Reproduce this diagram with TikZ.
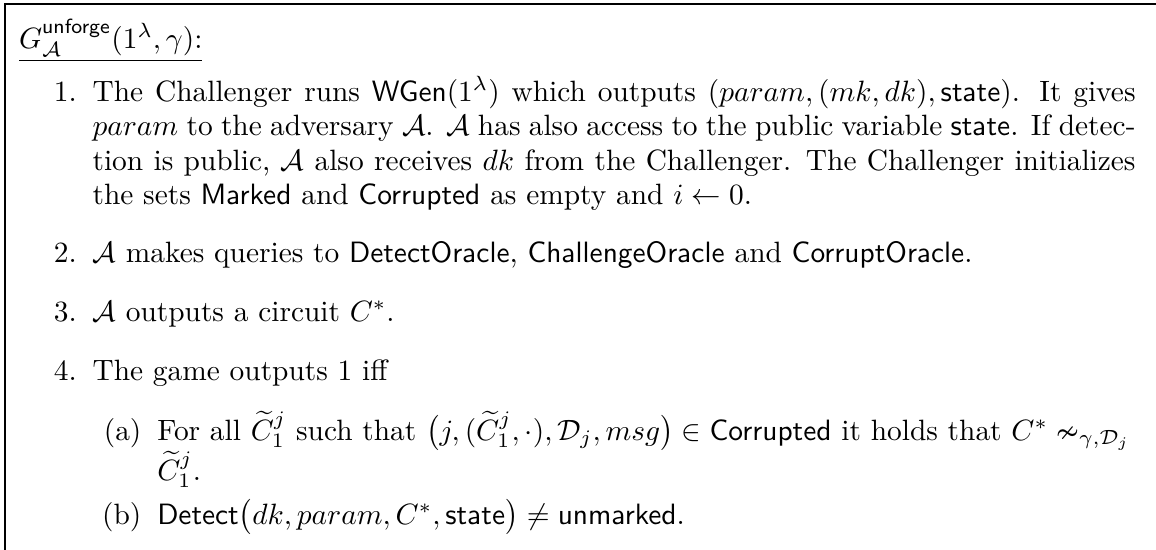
\documentclass[tikz,border=0pt]{standalone}
\usepackage{amsmath,amssymb}
\tikzset{
  frameline/.style={line width=0.5pt, draw=black},
  lbl/.style={anchor=base east, inner sep=0pt},
  txt/.style={anchor=base west, inner sep=0pt}
}
\newlength\refw
\newcommand\qline{$\mathcal{A}$ makes queries to $\mathsf{DetectOracle}$, $\mathsf{ChallengeOracle}$ and $\mathsf{CorruptOracle}$.}
\begin{document}
\settowidth\refw{\qline}%
\pgfmathsetmacro\u{\refw/880}%
\pgfmathsetlengthmacro\tw{1043*\u pt}%
\pgfmathsetlengthmacro\Lsp{34.5*\u pt}%
\begin{tikzpicture}
\begin{scope}[x=\u pt, y=-\u pt]
\useasboundingbox (0,0) rectangle (1156,550);
\coordinate (tl) at (5,4);
\coordinate (tr) at (1156,4);
\coordinate (bl) at (5,550);
\draw[frameline] (tr) -- (tl) -- (bl);
% title
\node[txt] (title) at ([xshift=-25pt]92,48) {$\underline{G^{\mathsf{unforge}}_{\mathcal{A}}(1^\lambda,\gamma)\text{:}}$};
% item 1
\node[lbl] (l1) at ([xshift=-5pt]92,101) {1.};
\node[txt] (t1) at (92,101) {\begin{minipage}[t]{\tw}\setlength{\baselineskip}{\Lsp}%
The Challenger runs $\mathsf{WGen}(1^\lambda)$ which outputs $(param,(mk,dk),\mathsf{state})$. It gives\linebreak
$param$ to the adversary $\mathcal{A}$. $\mathcal{A}$ has also access to the public variable $\mathsf{state}$. If detec-\linebreak
tion is public, $\mathcal{A}$ also receives $dk$ from the Challenger. The Challenger initializes\linebreak
the sets $\mathsf{Marked}$ and $\mathsf{Corrupted}$ as empty and $i\leftarrow 0$.\end{minipage}};
% item 2
\node[lbl] (l2) at ([xshift=-5pt]92,262) {2.};
\node[txt] (t2) at (92,262) {\qline};
% item 3
\node[lbl] (l3) at ([xshift=-5pt]92,321) {3.};
\node[txt] (t3) at (92,321) {$\mathcal{A}$ outputs a circuit $C^*$.};
% item 4
\node[lbl] (l4) at ([xshift=-5pt]92,380) {4.};
\node[txt] (t4) at (92,380) {The game outputs 1 iff};
% (a)
\node[lbl] (la) at ([xshift=17pt]92,440) {(a)};
\node[txt] (ta) at ([xshift=22pt]92,440) {For all $\widetilde{C}^j_1$ such that $\big(j,(\widetilde{C}^j_1,\cdot),\mathcal{D}_j,msg\big)\in\mathsf{Corrupted}$ it holds that $C^*\nsim_{\gamma,\mathcal{D}_j}$};
\node[txt] (ta2) at ([xshift=22pt]92,480) {$\widetilde{C}^j_1$.};
% (b)
\node[lbl] (lb) at ([xshift=17pt]92,524) {(b)};
\node[txt] (tb) at ([xshift=22pt]92,524) {$\mathsf{Detect}\big(dk,param,C^*,\mathsf{state}\big)\neq\mathsf{unmarked}$.};
\end{scope}
\end{tikzpicture}
\end{document}
